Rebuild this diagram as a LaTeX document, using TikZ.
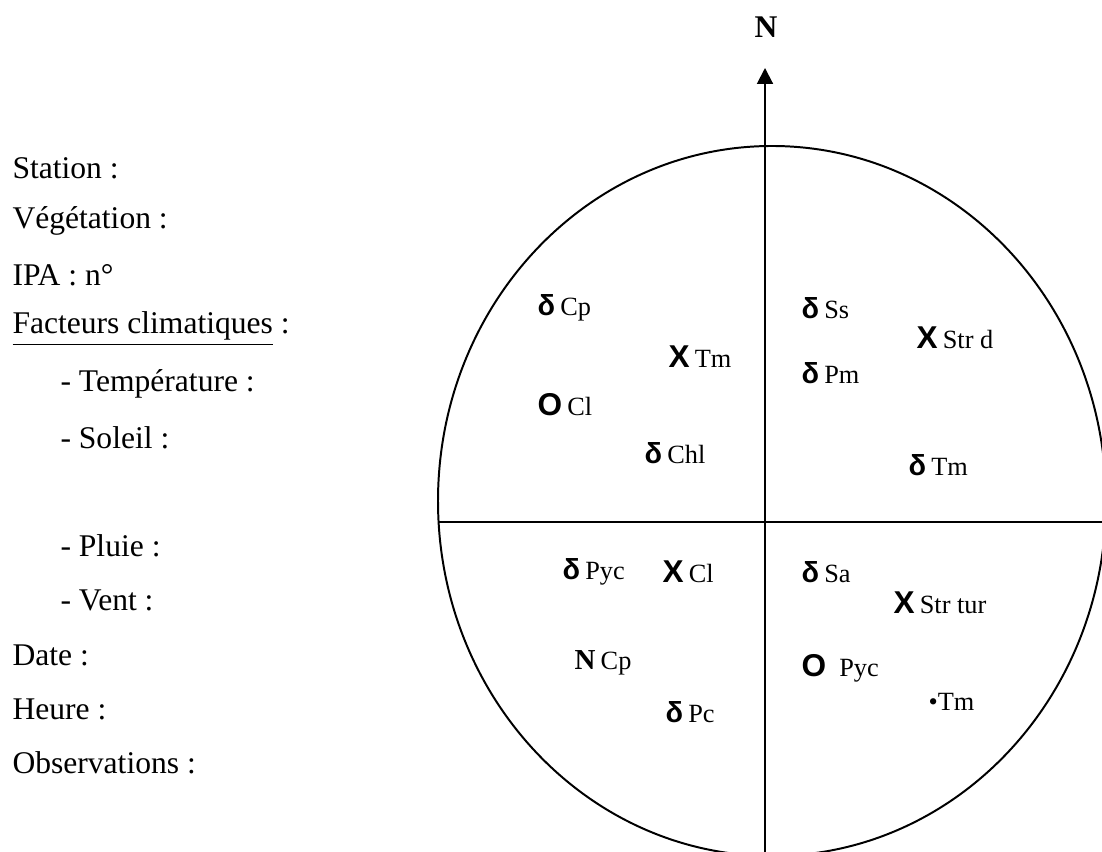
\documentclass[tikz,border=0pt]{standalone}
\usepackage{fontspec}
\setmainfont{Liberation Serif}
\newfontfamily\symfont{Liberation Sans}
\usetikzlibrary{arrows.meta}
\tikzset{
	field/.style={anchor=west, inner sep=0pt, font=\fontsize{12}{14}\selectfont},
	obs/.style={anchor=west, inner sep=0pt, font=\fontsize{10}{12}\selectfont},
	axis/.style={line width=0.75pt},
}
\def\dlt{{\symfont\bfseries\fontsize{11}{12}\selectfont δ}\hspace{2pt}}
\def\crs{{\symfont\bfseries\fontsize{12}{12}\selectfont X}\hspace{2pt}}
\def\rnd{{\symfont\bfseries\fontsize{12}{12}\selectfont O}\hspace{2pt}}
\def\nrd{{\bfseries\fontsize{11}{12}\selectfont N}\hspace{2pt}}

\begin{document}
\begin{tikzpicture}[x=0.38pt, y=-0.38pt]
\useasboundingbox (0,0) rectangle (1102,852);
\clip (0,0) rectangle (1102,852);

% fiche
\node[field] (station) at (12,168) {Station :};
\node[field] (vegetation) at (12,221) {Végétation :};
\node[field] (ipa) at (12,275) {IPA : n°};
\node[field] (facteurs) at (12,329) {\underline{Facteurs climatiques} :};
\node[field] (temperature) at (60,384) {- Température :};
\node[field] (soleil) at (60,438) {- Soleil :};
\node[field] (pluie) at (60,546) {- Pluie :};
\node[field] (vent) at (60,600) {- Vent :};
\node[field] (date) at (12,655) {Date :};
\node[field] (heure) at (12,709) {Heure :};
\node[field] (observations) at (12,763) {Observations :};

% rose
\coordinate (nord-pt) at (765,68);
\coordinate (sud-pt) at (765,852);
\coordinate (ouest-pt) at (438,522);
\coordinate (est-pt) at (1102,522);
\draw[axis] (772,501) ellipse [x radius=334, y radius=355];
\draw[axis] (ouest-pt) -- (est-pt);
\draw[axis, -{Triangle[length=6pt, width=6pt]}] (sud-pt) -- (nord-pt);
\node[inner sep=0pt, font=\bfseries\fontsize{12}{14}\selectfont] (nord) at (766,27) {N};

% quart nord-ouest
\node[obs] (no-cp) at (537,308) {\dlt Cp};
\node[obs] (no-tm) at (668,357) {\crs Tm};
\node[obs] (no-cl) at (537,405) {\rnd Cl};
\node[obs] (no-chl) at (644,453) {\dlt Chl};
% quart nord-est
\node[obs] (ne-ss) at (801,308) {\dlt Ss};
\node[obs] (ne-strd) at (916,338) {\crs Str d};
\node[obs] (ne-pm) at (801,373) {\dlt Pm};
\node[obs] (ne-tm) at (908,465) {\dlt Tm};
% quart sud-ouest
\node[obs] (so-pyc) at (562,572) {\dlt Pyc};
\node[obs] (so-cl) at (662,572) {\crs Cl};
\node[obs] (so-cp) at (574,663) {\nrd Cp};
\node[obs] (so-pc) at (665,712) {\dlt Pc};
% quart sud-est
\node[obs] (se-sa) at (801,572) {\dlt Sa};
\node[obs] (se-strtur) at (893,603) {\crs Str tur};
\node[obs] (se-pyc) at (801,668) {\rnd\hspace{3pt}Pyc};
\node[obs] (se-tm) at (928,702) {•Tm};
\end{tikzpicture}
\end{document}
